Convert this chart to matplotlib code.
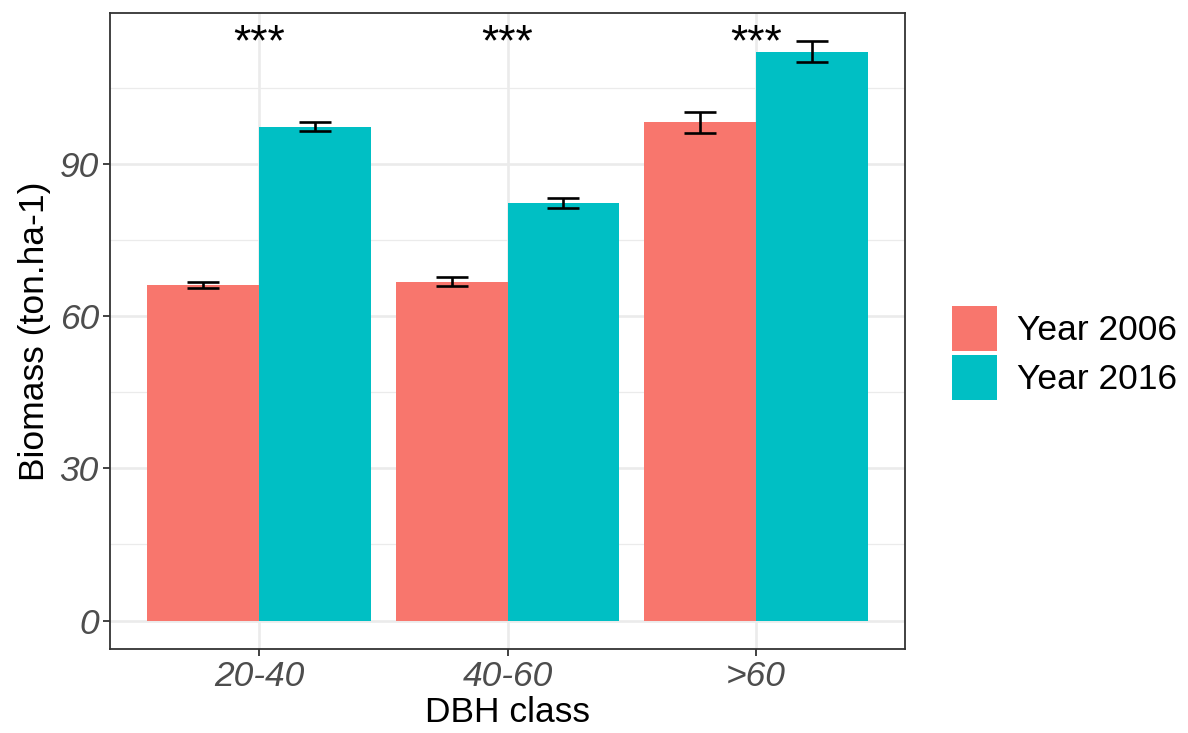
import matplotlib
matplotlib.use("Agg")
import matplotlib.pyplot as plt
import numpy as np
from matplotlib.patches import Patch

categories = ["20-40", "40-60", ">60"]
series_names = ["Year 2006", "Year 2016"]
biomass_2006 = [66.1, 66.8, 98.2]
biomass_2016 = [97.3, 82.3, 112.1]
se_2006 = [0.66, 0.92, 2.07]
se_2016 = [0.85, 1.05, 2.13]
signif = ["***", "***", "***"]
colors = ["#F8766D", "#00BFC4"]
yticks = [0, 30, 60, 90]
yminor = [15, 45, 75, 105]

plt.rcParams['font.family'] = ['Liberation Sans', 'DejaVu Sans']

fig = plt.figure(figsize=(11.88, 7.33), dpi=100)
ax = fig.add_axes([110/1188, 84/733, 795/1188, 636/733])

x = np.arange(1, len(categories) + 1)
w = 0.45
grid_c = "#EBEBEB"
for yv in yminor:
    ax.axhline(yv, color=grid_c, lw=0.9, zorder=0)
for yv in yticks:
    ax.axhline(yv, color=grid_c, lw=1.9, zorder=0)
for xv in x:
    ax.axvline(xv, color=grid_c, lw=1.9, zorder=0)

ax.bar(x - w/2, biomass_2006, width=w, color=colors[0], zorder=2)
ax.bar(x + w/2, biomass_2016, width=w, color=colors[1], zorder=2)
ax.errorbar(x - w/2, biomass_2006, yerr=se_2006, fmt='none', ecolor='black',
            elinewidth=1.9, capsize=11.2, capthick=1.9, zorder=3)
ax.errorbar(x + w/2, biomass_2016, yerr=se_2016, fmt='none', ecolor='black',
            elinewidth=1.9, capsize=11.2, capthick=1.9, zorder=3)

for xi, s in zip(x, signif):
    ax.text(xi, 111.3, s, ha='center', va='baseline', fontsize=32, color='black', zorder=4)

ax.set_xlim(0.4, 3.6)
ax.set_ylim(-5.6, 119.7)
ax.set_xticks(x)
ax.set_xticklabels(categories, fontsize=25.5, fontstyle='italic', color='#4D4D4D')
ax.set_yticks(yticks)
ax.set_yticklabels([str(v) for v in yticks], fontsize=25.5, fontstyle='italic', color='#4D4D4D')
ax.tick_params(axis='both', length=5, width=1.3, color='#333333', pad=3)
for sp in ax.spines.values():
    sp.set_color('#333333')
    sp.set_linewidth(1.3)

ax.set_xlabel("DBH class", fontsize=25.5, labelpad=2)
ax.set_ylabel("Biomass (ton.ha-1)", fontsize=25.5, labelpad=6)

handles = [Patch(facecolor=c, edgecolor='none', label=n) for c, n in zip(colors, series_names)]
fig.legend(handles=handles, loc='center left', bbox_to_anchor=(952/1188, 380/733),
           frameon=False, fontsize=25.5, handlelength=1.27, handleheight=1.58,
           handletextpad=0.56, labelspacing=0.11, borderpad=0, borderaxespad=0)

fig.savefig("out.png", dpi=100)
